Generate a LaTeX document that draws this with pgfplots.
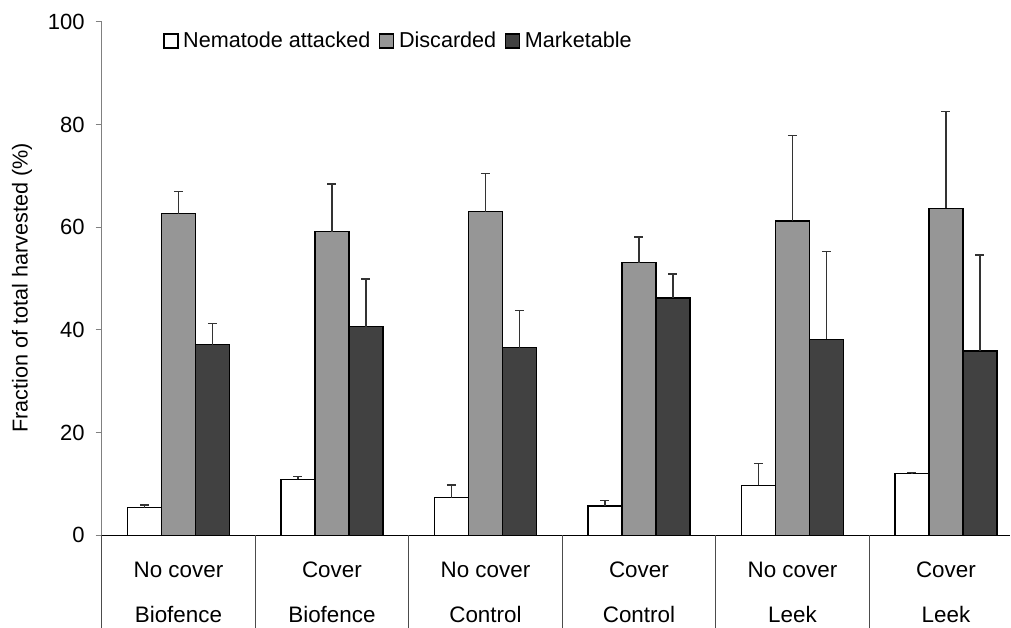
\documentclass[border=0pt]{standalone}
\usepackage{pgfplots}
\usepackage{pgfplotstable}
\pgfplotsset{compat=1.18}
\usepackage{fontspec}
\setmainfont{Liberation Sans}
\definecolor{midgray}{HTML}{969696}
\definecolor{darkbar}{HTML}{414141}
\definecolor{axgray}{HTML}{808080}

\pgfplotsset{sqlegend/.style={legend image code/.code={\draw[##1,draw=black,line width=0.9pt] (0pt,-5.25pt) rectangle (10.5pt,5.25pt);}}}

\pgfplotstableread{
x n en d ed m em
0 5.4 0.5 62.6 4.3 37.1 4.1
1 10.9 0.5 59.1 9.3 40.6 9.3
2 7.3 2.5 63.0 7.4 36.5 7.2
3 5.7 1.0 53.1 5.0 46.2 4.7
4 9.7 4.3 61.2 16.7 38.2 17.0
5 12.0 0.2 63.7 18.8 35.9 18.7
}\data

\begin{document}
\begin{tikzpicture}
\begin{axis}[
  scale only axis,
  width=681.525pt, height=385.125pt,
  xmin=-0.5, xmax=5.42, ymin=0, ymax=100,
  ybar=0pt, bar width=25.5pt,
  axis x line*=bottom, axis y line*=left,
  x axis line style={draw=black, line width=0.9pt},
  y axis line style={draw=axgray, line width=0.9pt},
  font=\fontsize{16.2}{19}\selectfont,
  ytick={0,20,...,100},
  yticklabel style={font=\fontsize{16.5}{19}\selectfont, xshift=-5pt},
  /pgf/number format/assume math mode=true,
  tick align=outside,
  ytick style={draw=axgray, line width=0.9pt, /pgfplots/major tick length=4.5pt},
  xtick={0,1,2,3,4,5},
  xticklabels={{No cover\\Biofence},{Cover\\Biofence},{No cover\\Control},{Cover\\Control},{No cover\\Leek},{Cover\\Leek}},
  xticklabel style={align=center, font=\fontsize{16.8}{34}\selectfont, yshift=-12pt},
  xtick style={/pgfplots/major tick length=0pt},
  extra x ticks={-0.5,0.5,1.5,2.5,3.5,4.5},
  extra x tick labels={},
  extra x tick style={xtick style={draw=black!70, line width=0.9pt, /pgfplots/major tick length=75pt}},
  every axis y label/.style={at={(rel axis cs:-0.0877,0.4816)}, anchor=center, rotate=90},
  ylabel={Fraction of total harvested (\%)},
  legend style={at={(rel axis cs:0.0675,0.9626)}, anchor=west, draw=none, fill=none, inner sep=0pt,
    legend columns=3,
    /tikz/every odd column/.append style={column sep=1.5pt},
    /tikz/every even column/.append style={column sep=4.5pt},
    font=\fontsize{16.2}{19}\selectfont},
  error bars/y dir=plus, error bars/y explicit,
  error bars/error bar style={line width=0.9pt, draw=black!80},
  error bars/error mark options={rotate=90, mark size=3.4pt, line width=0.9pt, draw=black!80},
]
\addplot[fill=white, draw=black, line width=0.9pt, sqlegend] table[x=x, y=n, y error=en]{\data};
\addplot[fill=midgray, draw=black, line width=0.9pt, sqlegend] table[x=x, y=d, y error=ed]{\data};
\addplot[fill=darkbar, draw=black, line width=0.9pt, sqlegend] table[x=x, y=m, y error=em]{\data};
\legend{Nematode attacked, Discarded, Marketable}
\end{axis}
\pgfresetboundingbox
\useasboundingbox (-76.275pt,-69.525pt) rectangle (681.975pt,401.475pt);
\end{tikzpicture}
\end{document}
